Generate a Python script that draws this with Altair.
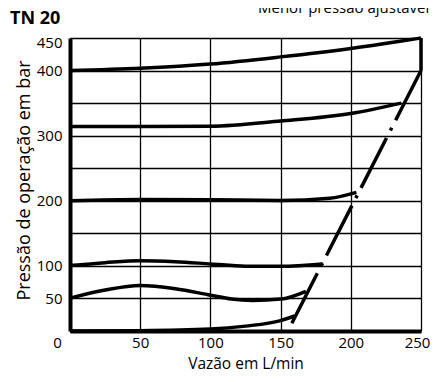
import altair as alt
import pandas as pd

# Flow (L/min) and pressure (bar)
a_x = [0, 50, 100, 150, 200, 235, 250]
a_y = [400, 403.5, 410, 421, 434, 445, 450]
b_x = [0, 50, 100, 150, 200, 236]
b_y = [314, 314, 314.5, 322.5, 334, 350]
c_x = [0, 50, 100, 150, 185, 204]
c_y = [200, 202, 201.5, 200.5, 204, 213]
d_x = [0, 25, 50, 75, 100, 125, 150, 180]
d_y = [100.5, 105, 108, 106.5, 103, 99.5, 99.5, 103]
e_x = [0, 25, 50, 75, 100, 115, 130, 150, 168]
e_y = [50.5, 63, 70, 65, 55, 49, 47, 49, 61]
f_x = [0, 50, 100, 125, 150, 160]
f_y = [0, 0.5, 3, 7.5, 16, 23]
max_x = [250, 250]
max_y = [400, 450]
min_x = [158, 250]
min_y = [12, 400]

x_ticks = [0, 50, 100, 150, 200, 250]
y_ticks = [0, 50, 100, 150, 200, 250, 300, 350, 400, 450]
y_labels = [50, 100, 200, 300, 400, 450]

title_text = "TN 20"
note_text = "Menor pressão ajustável"
x_title = "Vazão em L/min"
y_title = "Pressão de operação em bar"

FONT = "Open Sans"

rows = []
for name, xs, ys in [("a", a_x, a_y), ("b", b_x, b_y), ("c", c_x, c_y),
                     ("d", d_x, d_y), ("e", e_x, e_y), ("f", f_x, f_y)]:
    for i, (xv, yv) in enumerate(zip(xs, ys)):
        rows.append({"s": name, "x": xv, "y": yv, "o": i})
curves = pd.DataFrame(rows)
vmax = pd.DataFrame({"x": max_x, "y": max_y, "o": [0, 1]})
vmin = pd.DataFrame({"x": min_x, "y": min_y, "o": [0, 1]})

xscale = alt.Scale(domain=[0, 250], nice=False, zero=False)
yscale = alt.Scale(domain=[0, 450], nice=False, zero=False)

label_list = "[" + ",".join(str(v) for v in y_labels) + "]"

x_axis = alt.Axis(
    values=x_ticks, tickCount=len(x_ticks) + 5,
    grid=True, gridColor="#000", gridWidth=1.3, gridOpacity=1,
    ticks=False, tickSize=0, domain=True, domainColor="#000", domainWidth=4,
    labelFlush=False, labelOverlap=False, labelFont=FONT, labelFontSize=15,
    labelColor="#000", labelPadding=4,
    labelOffset={"condition": [{"test": "datum.value === 0", "value": -13},
                               {"test": "datum.value === 250", "value": -4}],
                 "value": 0},
    title=x_title, titleFont=FONT, titleFontSize=15.5, titleFontWeight="normal",
    titleColor="#000", titlePadding=6,
)
y_axis = alt.Axis(
    values=y_ticks, tickCount=len(y_ticks) + 5,
    grid=True, gridColor="#000", gridWidth=1.3, gridOpacity=1,
    ticks=False, tickSize=0, domain=True, domainColor="#000", domainWidth=4,
    labelFlush=False, labelOverlap=False, labelFont=FONT, labelFontSize=15,
    labelColor="#000", labelPadding=8,
    labelExpr="indexof(" + label_list + ", datum.value) >= 0 ? datum.label : ''",
    labelOffset={"condition": {"test": "datum.value === 450", "value": 4}, "value": 0},
    title=y_title, titleFont=FONT, titleFontSize=18, titleFontWeight="normal",
    titleColor="#000", titlePadding=3, titleY=142,
)

lines = alt.Chart(curves).mark_line(
    color="#000", strokeWidth=3.5, interpolate="monotone"
).encode(
    x=alt.X("x:Q", scale=xscale, axis=x_axis),
    y=alt.Y("y:Q", scale=yscale, axis=y_axis),
    detail="s:N",
    order="o:Q",
)

maxline = alt.Chart(vmax).mark_line(color="#000", strokeWidth=3.5).encode(
    x=alt.X("x:Q", scale=xscale), y=alt.Y("y:Q", scale=yscale), order="o:Q"
)

minline = alt.Chart(vmin).mark_line(
    color="#000", strokeWidth=3.5, strokeDash=[56, 8.5, 3, 8.5]
).encode(
    x=alt.X("x:Q", scale=xscale), y=alt.Y("y:Q", scale=yscale), order="o:Q"
)

ttl = alt.Chart(pd.DataFrame({"t": [title_text]})).mark_text(
    font=FONT, fontSize=18, fontWeight="bold", align="left", baseline="alphabetic",
    color="#000"
).encode(x=alt.value(-60), y=alt.value(-14), text="t:N")

note = alt.Chart(pd.DataFrame({"t": [note_text]})).mark_text(
    font=FONT, fontSize=15, align="left", baseline="alphabetic", color="#000"
).encode(x=alt.value(188), y=alt.value(-25), text="t:N")

chart = alt.layer(lines, maxline, minline, ttl, note).properties(
    width=351, height=293,
    autosize=alt.AutoSizeParams(type="none"),
    padding={"left": 62, "top": 30, "right": 9, "bottom": 43},
).configure_view(stroke=None)

chart.save("out.html", embed_options={"renderer": "svg", "actions": False})
